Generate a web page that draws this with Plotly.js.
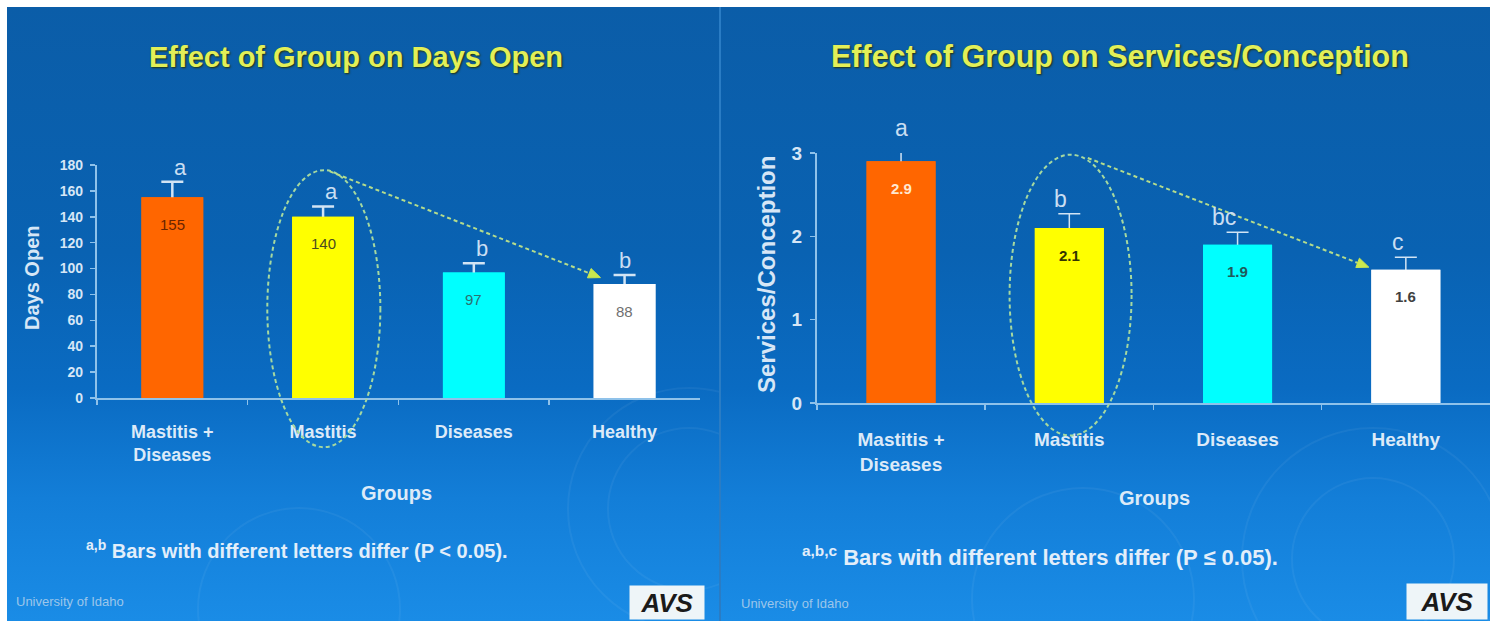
<!DOCTYPE html>
<html>
<head>
<meta charset="utf-8">
<script src="https://cdn.plot.ly/plotly-3.0.1.min.js"></script>
<style>
  html, body { margin: 0; padding: 0; background: #ffffff; width: 1494px; height: 623px; overflow: hidden; }
  .slide { position: absolute; top: 7px; height: 614px; overflow: hidden;
           background: linear-gradient(180deg, #0b5da8 0%, #0962b2 40%, #0a6bc2 62%, #137ed8 80%, #1a8ce6 100%); }
  #s1 { left: 7px; width: 712px; }
  #s2 { left: 721px; width: 769px; }
  #divider { position: absolute; left: 719px; top: 7px; width: 2px; height: 614px; background: #2a7cc4; }
  .ring { position: absolute; border-radius: 50%; border: 2px solid rgba(255,255,255,0.05); }
  #chart { position: absolute; left: 0; top: 0; width: 1494px; height: 623px; }
</style>
</head>
<body>
<div class="slide" id="s1">
  <div class="ring" style="left:560px;top:380px;width:240px;height:240px;"></div>
  <div class="ring" style="left:600px;top:420px;width:160px;height:160px;"></div>
  <div class="ring" style="left:190px;top:500px;width:200px;height:200px;"></div>
</div>
<div id="divider"></div>
<div class="slide" id="s2">
  <div class="ring" style="left:520px;top:420px;width:260px;height:260px;"></div>
  <div class="ring" style="left:570px;top:470px;width:160px;height:160px;"></div>
  <div class="ring" style="left:250px;top:480px;width:220px;height:220px;"></div>
</div>
<div id="chart"></div>
<script>
// ---- data ----
const groups = ['Mastitis +<br>Diseases', 'Mastitis', 'Diseases', 'Healthy'];
const barColors = ['#ff6600', '#ffff00', '#00ffff', '#ffffff'];

const daysOpen = [155, 140, 97, 88];
const daysOpenErr = [12, 8, 7, 7];
const daysOpenLetters = ['a', 'a', 'b', 'b'];
const daysOpenTextColors = ['#6a2400', '#4a4a20', '#2c7070', '#707070'];

const servConc = [2.9, 2.1, 1.9, 1.6];
const servConcErr = [0.22, 0.17, 0.15, 0.15];
const servConcLetters = ['a', 'b', 'bc', 'c'];
const servConcTextColors = ['#ffe8d0', '#333300', '#1f5a5a', '#404040'];

const W = 1494, H = 623;
const FONT = 'Liberation Sans, Arial, sans-serif';
const axisText = '#d6e6f6';
const axisLine = '#8fc2ea';

// axis geometry
const ax1 = { xdom: [0.0649, 0.4685], xr: [-0.5, 3.5], ydom: [0.3612, 0.7352], yr: [0, 180] };
const ax2 = { xdom: [0.5468, 0.9973], xr: [-0.5, 3.5], ydom: [0.3531, 0.7544], yr: [0, 3] };

// data -> paper helpers (for marks that sit outside the plotted range)
function px(ax, v) { return ax.xdom[0] + (v - ax.xr[0]) / (ax.xr[1] - ax.xr[0]) * (ax.xdom[1] - ax.xdom[0]); }
function py(ax, v) { return ax.ydom[0] + (v - ax.yr[0]) / (ax.yr[1] - ax.yr[0]) * (ax.ydom[1] - ax.ydom[0]); }

// error bars go on an underlying copy of the bars; the bars drawn over it hide the lower half
function barTraces(vals, errs, xa, ya, width, thick) {
  const base = { type: 'bar', x: groups, y: vals, xaxis: xa, yaxis: ya, width: width,
    marker: { color: barColors, line: { width: 0 } }, hoverinfo: 'none', cliponaxis: false, showlegend: false };
  const withErr = Object.assign({}, base, {
    error_y: { type: 'data', array: errs, visible: true, color: '#d2e4f4', thickness: thick, width: 11 } });
  return [withErr, base];
}

const traces = [].concat(
  barTraces(daysOpen, daysOpenErr, 'x', 'y', 0.41, 2.5),
  barTraces(servConc, servConcErr, 'x2', 'y2', 0.41, 1.5)
);

const annotations = [];

// slide titles
const titleShadow = '1px 1px 2px #23330a';
annotations.push({ xref: 'paper', yref: 'paper', x: 356 / W, y: 1 - 57 / H, text: 'Effect of Group on Days Open',
  showarrow: false, font: { family: FONT, size: 29, color: '#e2ef58', weight: 'bold', shadow: titleShadow },
  xanchor: 'center', yanchor: 'middle' });
annotations.push({ xref: 'paper', yref: 'paper', x: 1120 / W, y: 1 - 57 / H, text: 'Effect of Group on Services/Conception',
  showarrow: false, font: { family: FONT, size: 30.5, color: '#e2ef58', weight: 'bold', shadow: titleShadow },
  xanchor: 'center', yanchor: 'middle' });

// value labels inside bars and significance letters above error bars
function barLabels(ax, vals, errs, letters, colors, xa, ya, fmt, bold, valSize, letterSize) {
  vals.forEach((v, i) => {
    annotations.push({ xref: xa, yref: ya, x: groups[i], y: v, yshift: -27, text: fmt(v), showarrow: false,
      font: { family: FONT, size: valSize, color: colors[i], weight: bold ? 'bold' : 'normal' }, yanchor: 'middle' });
    annotations.push({ xref: 'paper', yref: 'paper', x: px(ax, i), y: py(ax, v + errs[i]), yshift: 0, text: letters[i],
      showarrow: false, font: { family: FONT, size: letterSize, color: '#c9def2' }, yanchor: 'bottom' });
  });
}
barLabels(ax1, daysOpen, daysOpenErr, daysOpenLetters, daysOpenTextColors, 'x', 'y', v => String(v), false, 15, 22);
barLabels(ax2, servConc, servConcErr, servConcLetters, servConcTextColors, 'x2', 'y2', v => v.toFixed(1), true, 15, 23);

// axis titles
annotations.push({ xref: 'paper', yref: 'paper', x: 32 / W, y: 1 - 278 / H, text: 'Days Open', textangle: -90,
  showarrow: false, font: { family: FONT, size: 20, color: axisText, weight: 'bold' }, xanchor: 'center', yanchor: 'middle' });
annotations.push({ xref: 'paper', yref: 'paper', x: 767 / W, y: 1 - 275 / H, text: 'Services/Conception', textangle: -90,
  showarrow: false, font: { family: FONT, size: 24, color: axisText, weight: 'bold' }, xanchor: 'center', yanchor: 'middle' });
const groupsFont = { family: FONT, size: 20, color: '#dceaf8', weight: 'bold' };
annotations.push({ xref: 'paper', yref: 'paper', x: 397 / W, y: 1 - 493 / H, text: 'Groups',
  showarrow: false, font: groupsFont, xanchor: 'center', yanchor: 'middle' });
annotations.push({ xref: 'paper', yref: 'paper', x: 1154 / W, y: 1 - 498 / H, text: 'Groups',
  showarrow: false, font: groupsFont, xanchor: 'center', yanchor: 'middle' });

// footnotes
annotations.push({ xref: 'paper', yref: 'paper', x: 84 / W, y: 1 - 549 / H,
  text: '<sup>a,b</sup> Bars with different letters differ (P &lt; 0.05).',
  showarrow: false, font: { family: FONT, size: 20, color: '#e2eefa', weight: 'bold' }, xanchor: 'left', yanchor: 'middle' });
annotations.push({ xref: 'paper', yref: 'paper', x: 800 / W, y: 1 - 556 / H,
  text: '<sup>a,b,c</sup> Bars with different letters differ (P ≤ 0.05).',
  showarrow: false, font: { family: FONT, size: 22, color: '#e2eefa', weight: 'bold' }, xanchor: 'left', yanchor: 'middle' });

// footer: institution and logo
const footFont = { family: FONT, size: 13, color: '#9cc6ea' };
annotations.push({ xref: 'paper', yref: 'paper', x: 14 / W, y: 1 - 601 / H, text: 'University of Idaho',
  showarrow: false, font: footFont, xanchor: 'left', yanchor: 'middle' });
annotations.push({ xref: 'paper', yref: 'paper', x: 739 / W, y: 1 - 603 / H, text: 'University of Idaho',
  showarrow: false, font: footFont, xanchor: 'left', yanchor: 'middle' });
const logoFont = { family: 'Liberation Sans, Arial, sans-serif', size: 26, color: '#1a1a1a', weight: 'bold' };
annotations.push({ xref: 'paper', yref: 'paper', x: 667 / W, y: 1 - 602 / H, text: '<i>AVS</i>',
  showarrow: false, font: logoFont, bgcolor: '#eef5f8', borderpad: 2, width: 70, height: 29,
  xanchor: 'center', yanchor: 'middle' });
annotations.push({ xref: 'paper', yref: 'paper', x: 1447 / W, y: 1 - 601 / H, text: '<i>AVS</i>',
  showarrow: false, font: logoFont, bgcolor: '#eef5f8', borderpad: 2, width: 76, height: 31,
  xanchor: 'center', yanchor: 'middle' });

// highlight ellipse around the Mastitis bar and dashed trend arrow to Healthy
const shapes = [];
const hiColor = '#a6d9a0';
function highlight(ax, ex0, ex1, ey0, ey1, a0, a1) {
  shapes.push({ type: 'circle', xref: 'paper', yref: 'paper',
    x0: px(ax, ex0), x1: px(ax, ex1), y0: py(ax, ey0), y1: py(ax, ey1),
    line: { color: hiColor, width: 2, dash: '4px,3px' } });
  const xs = px(ax, a0[0]), ys = py(ax, a0[1]), xe = px(ax, a1[0]), ye = py(ax, a1[1]);
  // work in pixels for the arrow head
  const sx = xs * W, sy = (1 - ys) * H, ex = xe * W, ey = (1 - ye) * H;
  const len = Math.hypot(ex - sx, ey - sy);
  const ux = (ex - sx) / len, uy = (ey - sy) / len;
  const headLen = 12, headHalf = 5;
  const bx = ex - ux * headLen, by = ey - uy * headLen;
  shapes.push({ type: 'line', xref: 'paper', yref: 'paper', x0: xs, y0: ys, x1: bx / W, y1: 1 - by / H,
    line: { color: '#b4dc8c', width: 2, dash: '4px,3px' } });
  const p = (X, Y) => (X / W).toFixed(5) + ',' + (1 - Y / H).toFixed(5);
  shapes.push({ type: 'path', xref: 'paper', yref: 'paper',
    path: 'M' + p(ex, ey) + ' L' + p(bx - uy * headHalf, by + ux * headHalf) + ' L' + p(bx + uy * headHalf, by - ux * headHalf) + ' Z',
    fillcolor: '#cbe84e', line: { color: '#cbe84e', width: 1 } });
}
highlight(ax1, 0.63, 1.38, -38, 176, [1.045, 175], [2.84, 93]);
highlight(ax2, 0.645, 1.37, -0.39, 2.98, [1.11, 2.94], [2.78, 1.63]);

function xaxisDef(ax, standoff, size) {
  return { domain: ax.xdom, range: ax.xr, type: 'category', showgrid: false, zeroline: false,
    showline: true, linecolor: axisLine, linewidth: 2, ticks: 'outside', tickson: 'boundaries',
    ticklen: 5, tickcolor: axisLine, tickwidth: 1.5, ticklabelstandoff: standoff,
    tickfont: { family: FONT, size: size, color: '#dceaf8', weight: 'bold' }, fixedrange: true };
}
function yaxisDef(ax, dtick, anchor, size) {
  return { domain: ax.ydom, range: ax.yr, dtick: dtick, anchor: anchor, showgrid: false, zeroline: false,
    showline: true, linecolor: axisLine, linewidth: 2, ticks: 'outside', ticklen: 5, tickcolor: axisLine,
    tickwidth: 1.5, ticklabelstandoff: 4,
    tickfont: { family: FONT, size: size, color: axisText, weight: 'bold' }, fixedrange: true };
}

const layout = {
  width: W, height: H, margin: { l: 0, r: 0, t: 0, b: 0 },
  paper_bgcolor: 'rgba(0,0,0,0)', plot_bgcolor: 'rgba(0,0,0,0)',
  showlegend: false, barmode: 'overlay',
  xaxis: Object.assign(xaxisDef(ax1, 16, 18), { anchor: 'y' }),
  yaxis: yaxisDef(ax1, 20, 'x', 14),
  xaxis2: Object.assign(xaxisDef(ax2, 18, 19), { anchor: 'y2' }),
  yaxis2: yaxisDef(ax2, 1, 'x2', 19),
  annotations: annotations, shapes: shapes
};

Plotly.newPlot('chart', traces, layout, { staticPlot: true, displayModeBar: false });
</script>
</body>
</html>
